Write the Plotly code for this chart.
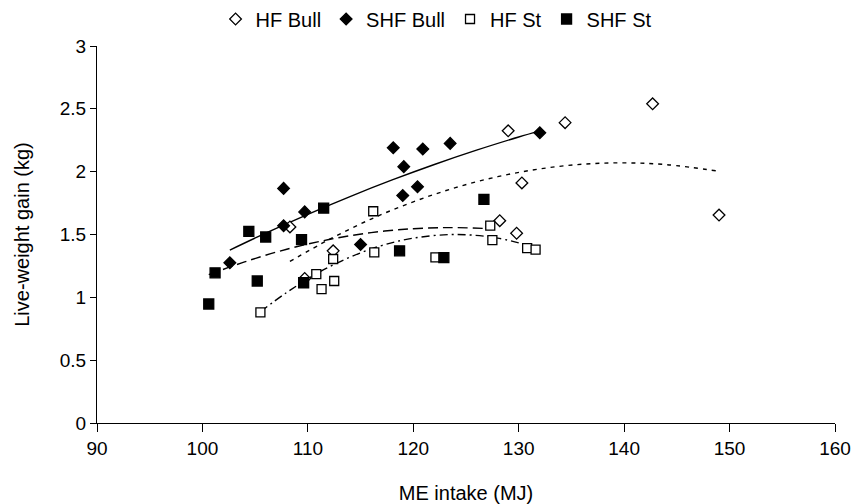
import plotly.graph_objects as go

# ---- data ----
hf_bull_x = [108.3, 109.7, 112.4, 128.2, 129.0, 129.8, 130.3, 134.4, 142.7, 149.0]
hf_bull_y = [1.56, 1.15, 1.37, 1.61, 2.325, 1.51, 1.91, 2.39, 2.54, 1.655]

shf_bull_x = [102.6, 107.7, 107.7, 109.7, 115.0, 118.1, 119.0, 119.1, 120.4, 120.9, 123.5, 132.0]
shf_bull_y = [1.275, 1.57, 1.867, 1.68, 1.42, 2.19, 1.81, 2.04, 1.88, 2.18, 2.225, 2.31]

hf_st_x = [105.5, 110.8, 111.3, 112.4, 112.5, 116.2, 116.3, 122.1, 127.3, 127.5, 130.8, 131.6]
hf_st_y = [0.88, 1.185, 1.065, 1.305, 1.13, 1.685, 1.357, 1.318, 1.57, 1.455, 1.392, 1.38]

shf_st_x = [100.6, 101.2, 104.4, 105.2, 106.0, 109.4, 109.6, 111.5, 118.7, 122.9, 126.7]
shf_st_y = [0.947, 1.195, 1.525, 1.13, 1.48, 1.46, 1.116, 1.71, 1.37, 1.316, 1.78]

# trend lines
hf_bull_trend_x = [108.3, 112, 116, 120, 124, 128, 132, 136, 140, 144, 149]
hf_bull_trend_y = [1.286, 1.459, 1.623, 1.760, 1.873, 1.960, 2.022, 2.059, 2.070, 2.056, 2.003]

shf_bull_trend_x = [102.6, 106, 110, 114, 118, 122, 126, 130, 132]
shf_bull_trend_y = [1.376, 1.511, 1.661, 1.802, 1.934, 2.057, 2.171, 2.276, 2.325]

hf_st_trend_x = [105.5, 108, 111, 114, 117, 120, 124, 128, 131.6]
hf_st_trend_y = [0.885, 1.039, 1.196, 1.320, 1.412, 1.471, 1.500, 1.471, 1.396]

shf_st_trend_x = [100.6, 104, 108, 112, 116, 120, 123.5, 126.7]
shf_st_trend_y = [1.180, 1.282, 1.383, 1.460, 1.515, 1.546, 1.555, 1.548]

FONT = "Liberation Sans, Arial, sans-serif"

fig = go.Figure()

# trend lines first (below markers)
line_specs = [
    (hf_bull_trend_x, hf_bull_trend_y, "4px,5px"),
    (shf_bull_trend_x, shf_bull_trend_y, "solid"),
    (hf_st_trend_x, hf_st_trend_y, "8px,4px,2px,4px"),
    (shf_st_trend_x, shf_st_trend_y, "10px,5px"),
]
for lx, ly, dash in line_specs:
    fig.add_trace(go.Scatter(
        x=lx, y=ly, mode="lines", showlegend=False, hoverinfo="skip",
        line=dict(color="black", width=1.4, dash=dash, shape="spline"),
    ))

marker_specs = [
    ("HF Bull", hf_bull_x, hf_bull_y, "diamond", "white", 9),
    ("SHF Bull", shf_bull_x, shf_bull_y, "diamond", "black", 9),
    ("HF St", hf_st_x, hf_st_y, "square", "white", 9),
    ("SHF St", shf_st_x, shf_st_y, "square", "black", 10),
]
for name, mx, my, sym, fill, size in marker_specs:
    fig.add_trace(go.Scatter(
        x=mx, y=my, mode="markers", name=name,
        marker=dict(symbol=sym, color=fill, size=size,
                    line=dict(color="black", width=1.3)),
    ))

fig.update_layout(
    width=851, height=504,
    margin=dict(l=97, r=16, t=46, b=81, autoexpand=False),
    paper_bgcolor="white", plot_bgcolor="white",
    font=dict(family=FONT, color="black", size=19),
    legend=dict(orientation="h", x=0.4594, xanchor="center", y=1.0716,
                yanchor="middle", font=dict(size=20), itemwidth=30,
                bgcolor="rgba(0,0,0,0)"),
    xaxis=dict(range=[90, 160], dtick=10, tick0=90, showgrid=False, zeroline=False,
               showline=True, linecolor="black", linewidth=1.2, automargin=False,
               ticks="outside", ticklen=8, tickcolor="black", tickwidth=1.2,
               title=dict(text="ME intake (MJ)", font=dict(size=20), standoff=28)),
    yaxis=dict(range=[0, 3], dtick=0.5, tick0=0, showgrid=False, zeroline=False,
               showline=True, linecolor="black", linewidth=1.2, automargin=False,
               ticks="outside", ticklen=6, tickcolor="black", tickwidth=1.2,
               title=dict(text="Live-weight gain (kg)", font=dict(size=20), standoff=24)),
)

fig.write_html("out.html", config={"displayModeBar": False},
               post_script="document.body.style.margin='0';")
